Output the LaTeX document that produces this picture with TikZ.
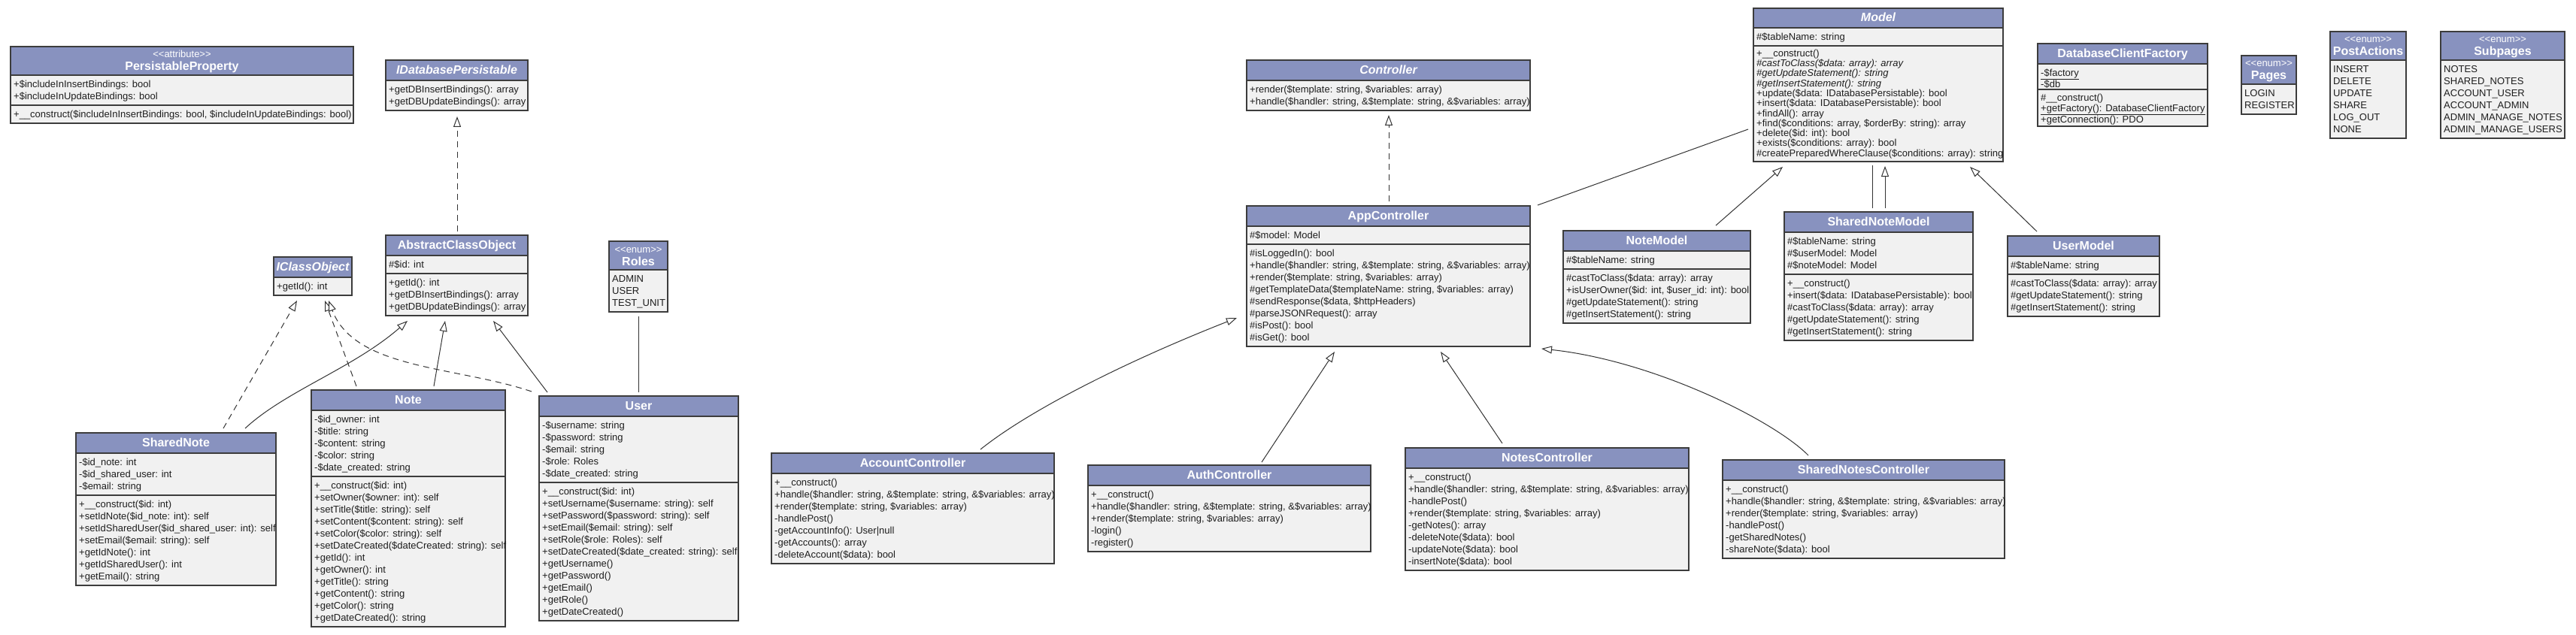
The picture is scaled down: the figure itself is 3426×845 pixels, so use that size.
\documentclass[tikz,border=0pt]{standalone}
\usepackage{fontspec}
\setmainfont{Liberation Sans}
\usetikzlibrary{arrows.meta}
\definecolor{hdrc}{HTML}{8892BF}
\definecolor{bodyc}{HTML}{F1F1F1}
\definecolor{bordc}{HTML}{3C3C3C}
\definecolor{inkc}{HTML}{1E1E1E}
\definecolor{linec}{HTML}{333333}
\tikzset{
  clsbox/.style={fill=bodyc, inner sep=0pt, outer sep=0pt},
  sepline/.style={draw=bordc, line width=1.2pt},
  outline/.style={draw=bordc, line width=1.5pt},
  htitle/.style={text=white, font=\fontsize{16}{18}\selectfont\bfseries, inner sep=0pt, anchor=base},
  hstereo/.style={text=white, font=\fontsize{13}{15}\selectfont, inner sep=0pt, anchor=base},
  ctxt/.style={text=inkc, font=\fontsize{13}{16}\selectfont, inner sep=0pt, anchor=north west, align=left},
  ctxtm/.style={ctxt, font=\fontsize{13}{13.3}\selectfont},
  ctxtd/.style={ctxt, font=\fontsize{13}{13.6}\selectfont},
  conn/.style={draw=linec, line width=1pt},
  gen/.style={conn, -{Triangle[length=14pt,width=10pt,fill=white]}},
  real/.style={gen, dash pattern=on 8pt off 6pt},
}
\newcommand\umlcls[6]{%
  \node[clsbox, anchor=north west, minimum width={(#4-#2)*1pt}, minimum height={(#5-#3)*1pt}] (#1) at (#2,#3) {};
  \fill[hdrc] (#2,#3) rectangle (#4,#6);
  \draw[sepline] (#2,#6) -- (#4,#6);
  \draw[outline] (#2,#3) rectangle (#4,#5);
}
\newcommand\csep[3]{\draw[sepline] (#1,#3) -- (#2,#3);}
\newcommand\ttl[5]{\node[htitle] (#1) at ({(#2+#3)/2},#4) {#5};}
\newcommand\stl[5]{\node[hstereo] (#1) at ({(#2+#3)/2},#4) {<\kern0pt<#5>\kern0pt>};}
\newcommand\comp[4]{\node[ctxt] (#1) at ({#2+4},{#3+4}) {\rule{0pt}{12.5pt}#4};}
\newcommand\mhandle{+handle(\$handler: string, \&\$template: string, \&\$variables: array)}
\newcommand\mrender{+render(\$template: string, \$variables: array)}
\begin{document}
\begin{tikzpicture}[x=1pt,y=-1pt]
\fill[white] (0,0) rectangle (3426,845);
\useasboundingbox (0,0) rectangle (3426,845);

% ---------- PersistableProperty
\umlcls{persist}{14}{62}{470}{164}{100}
\stl{persist-s}{14}{470}{77}{attribute}
\ttl{persist-t}{14}{470}{94}{PersistableProperty}
\csep{14}{470}{140}
\comp{persist-a}{14}{100}{+\$includeInInsertBindings: bool\\+\$includeInUpdateBindings: bool}
\comp{persist-m}{14}{140}{+\_\_construct(\$includeInInsertBindings: bool, \$includeInUpdateBindings: bool)}

% ---------- IDatabasePersistable
\umlcls{idb}{513}{80}{702}{147}{107}
\ttl{idb-t}{513}{702}{98.5}{\itshape IDatabasePersistable}
\comp{idb-m}{513}{107}{+getDBInsertBindings(): array\\+getDBUpdateBindings(): array}

% ---------- IClassObject
\umlcls{iclass}{364}{342}{468}{393}{369}
\ttl{iclass-t}{364}{468}{360.5}{\itshape IClassObject}
\comp{iclass-m}{364}{369}{+getId(): int}

% ---------- AbstractClassObject
\umlcls{abs}{513}{313}{702}{420}{340}
\ttl{abs-t}{513}{702}{331.5}{AbstractClassObject}
\csep{513}{702}{364}
\comp{abs-a}{513}{340}{\#\$id: int}
\comp{abs-m}{513}{364}{+getId(): int\\+getDBInsertBindings(): array\\+getDBUpdateBindings(): array}

% ---------- Roles
\umlcls{roles}{810}{321}{888}{415}{359}
\stl{roles-s}{810}{888}{336}{enum}
\ttl{roles-t}{810}{888}{353}{Roles}
\comp{roles-v}{810}{359}{ADMIN\\USER\\TEST\_UNIT}

% ---------- SharedNote
\umlcls{sharednote}{101}{576}{367}{779}{603}
\ttl{sharednote-t}{101}{367}{594.5}{SharedNote}
\csep{101}{367}{659}
\comp{sharednote-a}{101}{603}{-\$id\_note: int\\-\$id\_shared\_user: int\\-\$email: string}
\comp{sharednote-m}{101}{659}{+\_\_construct(\$id: int)\\+setIdNote(\$id\_note: int): self\\+setIdSharedUser(\$id\_shared\_user: int): self\\+setEmail(\$email: string): self\\+getIdNote(): int\\+getIdSharedUser(): int\\+getEmail(): string}

% ---------- Note
\umlcls{note}{414}{519}{672}{834}{546}
\ttl{note-t}{414}{672}{537.5}{Note}
\csep{414}{672}{634}
\comp{note-a}{414}{546}{-\$id\_owner: int\\-\$title: string\\-\$content: string\\-\$color: string\\-\$date\_created: string}
\comp{note-m}{414}{634}{+\_\_construct(\$id: int)\\+setOwner(\$owner: int): self\\+setTitle(\$title: string): self\\+setContent(\$content: string): self\\+setColor(\$color: string): self\\+setDateCreated(\$dateCreated: string): self\\+getId(): int\\+getOwner(): int\\+getTitle(): string\\+getContent(): string\\+getColor(): string\\+getDateCreated(): string}

% ---------- User
\umlcls{user}{717}{527}{982}{826}{554}
\ttl{user-t}{717}{982}{545.5}{User}
\csep{717}{982}{642}
\comp{user-a}{717}{554}{-\$username: string\\-\$password: string\\-\$email: string\\-\$role: Roles\\-\$date\_created: string}
\comp{user-m}{717}{642}{+\_\_construct(\$id: int)\\+setUsername(\$username: string): self\\+setPassword(\$password: string): self\\+setEmail(\$email: string): self\\+setRole(\$role: Roles): self\\+setDateCreated(\$date\_created: string): self\\+getUsername()\\+getPassword()\\+getEmail()\\+getRole()\\+getDateCreated()}

% ---------- Controller
\umlcls{controller}{1658}{80}{2035}{147}{107}
\ttl{controller-t}{1658}{2035}{98.5}{\itshape Controller}
\comp{controller-m}{1658}{107}{\mrender\\\mhandle}

% ---------- AppController
\umlcls{appctrl}{1658}{274}{2035}{461}{301}
\ttl{appctrl-t}{1658}{2035}{292.5}{AppController}
\csep{1658}{2035}{325}
\comp{appctrl-a}{1658}{301}{\#\$model: Model}
\comp{appctrl-m}{1658}{325}{\#isLoggedIn(): bool\\\mhandle\\\mrender\\\#getTemplateData(\$templateName: string, \$variables: array)\\\#sendResponse(\$data, \$httpHeaders)\\\#parseJSONRequest(): array\\\#isPost(): bool\\\#isGet(): bool}

% ---------- Model
\umlcls{model}{2332}{11}{2664}{215}{37}
\ttl{model-t}{2332}{2664}{29}{\itshape Model}
\csep{2332}{2664}{61}
\comp{model-a}{2332}{37}{\#\$tableName: string}
\node[ctxtm] (model-m) at (2336,62.5) {\rule{0pt}{12.5pt}+\_\_construct()\\\textit{\#castToClass(\$data: array): array}\\\textit{\#getUpdateStatement(): string}\\\textit{\#getInsertStatement(): string}\\+update(\$data: IDatabasePersistable): bool\\+insert(\$data: IDatabasePersistable): bool\\+findAll(): array\\+find(\$conditions: array, \$orderBy: string): array\\+delete(\$id: int): bool\\+exists(\$conditions: array): bool\\\#createPreparedWhereClause(\$conditions: array): string};

% ---------- NoteModel
\umlcls{notemodel}{2079}{307}{2328}{430}{334}
\ttl{notemodel-t}{2079}{2328}{325.5}{NoteModel}
\csep{2079}{2328}{358}
\comp{notemodel-a}{2079}{334}{\#\$tableName: string}
\comp{notemodel-m}{2079}{358}{\#castToClass(\$data: array): array\\+isUserOwner(\$id: int, \$user\_id: int): bool\\\#getUpdateStatement(): string\\\#getInsertStatement(): string}

% ---------- SharedNoteModel
\umlcls{snmodel}{2373}{282}{2624}{453}{309}
\ttl{snmodel-t}{2373}{2624}{300.5}{SharedNoteModel}
\csep{2373}{2624}{365}
\comp{snmodel-a}{2373}{309}{\#\$tableName: string\\\#\$userModel: Model\\\#\$noteModel: Model}
\comp{snmodel-m}{2373}{365}{+\_\_construct()\\+insert(\$data: IDatabasePersistable): bool\\\#castToClass(\$data: array): array\\\#getUpdateStatement(): string\\\#getInsertStatement(): string}

% ---------- UserModel
\umlcls{usermodel}{2670}{314}{2872}{421}{341}
\ttl{usermodel-t}{2670}{2872}{332.5}{UserModel}
\csep{2670}{2872}{365}
\comp{usermodel-a}{2670}{341}{\#\$tableName: string}
\comp{usermodel-m}{2670}{365}{\#castToClass(\$data: array): array\\\#getUpdateStatement(): string\\\#getInsertStatement(): string}

% ---------- DatabaseClientFactory
\umlcls{dbfactory}{2710}{58}{2936}{168}{85}
\ttl{dbfactory-t}{2710}{2936}{76.5}{DatabaseClientFactory}
\csep{2710}{2936}{119}
\node[ctxtm] (dbfactory-a) at (2714,88.5) {\rule{0pt}{12.5pt}\underline{-\$factory}\\-\$db};
\node[ctxtd] (dbfactory-m) at (2714,122) {\rule{0pt}{12.5pt}\#\_\_construct()\\\underline{+getFactory(): DatabaseClientFactory}\\+getConnection(): PDO};

% ---------- Pages
\umlcls{pages}{2981}{74}{3054}{152}{112}
\stl{pages-s}{2981}{3054}{89}{enum}
\ttl{pages-t}{2981}{3054}{106}{Pages}
\comp{pages-v}{2981}{112}{LOGIN\\REGISTER}

% ---------- PostActions
\umlcls{postactions}{3099}{42}{3200}{184}{80}
\stl{postactions-s}{3099}{3200}{57}{enum}
\ttl{postactions-t}{3099}{3200}{74}{PostActions}
\comp{postactions-v}{3099}{80}{INSERT\\DELETE\\UPDATE\\SHARE\\LOG\_OUT\\NONE}

% ---------- Subpages
\umlcls{subpages}{3246}{42}{3411}{184}{80}
\stl{subpages-s}{3246}{3411}{57}{enum}
\ttl{subpages-t}{3246}{3411}{74}{Subpages}
\comp{subpages-v}{3246}{80}{NOTES\\SHARED\_NOTES\\ACCOUNT\_USER\\ACCOUNT\_ADMIN\\ADMIN\_MANAGE\_NOTES\\ADMIN\_MANAGE\_USERS}

% ---------- AccountController
\umlcls{accountctrl}{1026}{603}{1402}{750}{630}
\ttl{accountctrl-t}{1026}{1402}{621.5}{AccountController}
\comp{accountctrl-m}{1026}{630}{+\_\_construct()\\\mhandle\\\mrender\\-handlePost()\\-getAccountInfo(): User|null\\-getAccounts(): array\\-deleteAccount(\$data): bool}

% ---------- AuthController
\umlcls{authctrl}{1447}{619}{1823}{734}{646}
\ttl{authctrl-t}{1447}{1823}{637.5}{AuthController}
\comp{authctrl-m}{1447}{646}{+\_\_construct()\\\mhandle\\\mrender\\-login()\\-register()}

% ---------- NotesController
\umlcls{notesctrl}{1869}{596}{2246}{759}{623}
\ttl{notesctrl-t}{1869}{2246}{614.5}{NotesController}
\comp{notesctrl-m}{1869}{623}{+\_\_construct()\\\mhandle\\-handlePost()\\\mrender\\-getNotes(): array\\-deleteNote(\$data): bool\\-updateNote(\$data): bool\\-insertNote(\$data): bool}

% ---------- SharedNotesController
\umlcls{snctrl}{2291}{612}{2666}{743}{639}
\ttl{snctrl-t}{2291}{2666}{630.5}{SharedNotesController}
\comp{snctrl-m}{2291}{639}{+\_\_construct()\\\mhandle\\\mrender\\-handlePost()\\-getSharedNotes()\\-shareNote(\$data): bool}

% ================= connectors
\draw[real] ([xshift=95pt,yshift=5pt]abs.north west) -- ([xshift=95pt,yshift=-8pt]idb.south west);
\draw[real] ([xshift=196pt,yshift=6pt]sharednote.north west) -- ([xshift=31pt,yshift=-7pt]iclass.south west);
\draw[real] ([xshift=60pt,yshift=5pt]note.north west) -- ([xshift=68pt,yshift=-7pt]iclass.south west);
\draw[real] ([xshift=-10pt,yshift=6pt]user.north west) .. controls (606,487) and (472,492) .. ([xshift=73pt,yshift=-7pt]iclass.south west);
\draw[gen] ([xshift=225pt,yshift=6pt]sharednote.north west) .. controls (380,520) and (470,490) .. ([xshift=29pt,yshift=-7pt]abs.south west);
\draw[gen] ([xshift=163pt,yshift=5pt]note.north west) -- ([xshift=79pt,yshift=-7pt]abs.south west);
\draw[gen] ([xshift=11pt,yshift=5pt]user.north west) -- ([xshift=143pt,yshift=-7pt]abs.south west);
\draw[conn] ([xshift=39pt,yshift=-6pt]roles.south west) -- ([xshift=132pt,yshift=5pt]user.north west);

\draw[real] ([xshift=189pt,yshift=6pt]appctrl.north west) -- ([xshift=189pt,yshift=-6pt]controller.south west);
\draw[conn] ([xshift=10pt,yshift=1pt]appctrl.north east) -- ([xshift=-7pt,yshift=43pt]model.south west);
\draw[gen] ([xshift=203pt,yshift=7pt]notemodel.north west) -- ([xshift=39pt,yshift=-7pt]model.south west);
\draw[conn] ([xshift=117pt,yshift=5pt]snmodel.north west) -- ([xshift=158pt,yshift=-5pt]model.south west);
\draw[gen] ([xshift=134pt,yshift=5pt]snmodel.north west) -- ([xshift=175pt,yshift=-6pt]model.south west);
\draw[gen] ([xshift=39pt,yshift=6pt]usermodel.north west) -- ([xshift=288pt,yshift=-7pt]model.south west);

\draw[gen] ([xshift=278pt,yshift=5pt]accountctrl.north west) .. controls (1370,545) and (1500,480) .. ([xshift=-13pt,yshift=38pt]appctrl.south west);
\draw[gen] ([xshift=231pt,yshift=4pt]authctrl.north west) -- ([xshift=117pt,yshift=-7pt]appctrl.south west);
\draw[gen] ([xshift=129pt,yshift=6pt]notesctrl.north west) -- ([xshift=258pt,yshift=-7pt]appctrl.south west);
\draw[gen] ([xshift=114pt,yshift=6pt]snctrl.north west) .. controls (2360,560) and (2200,480) .. ([xshift=15pt,yshift=-3pt]appctrl.south east);
\end{tikzpicture}
\end{document}
